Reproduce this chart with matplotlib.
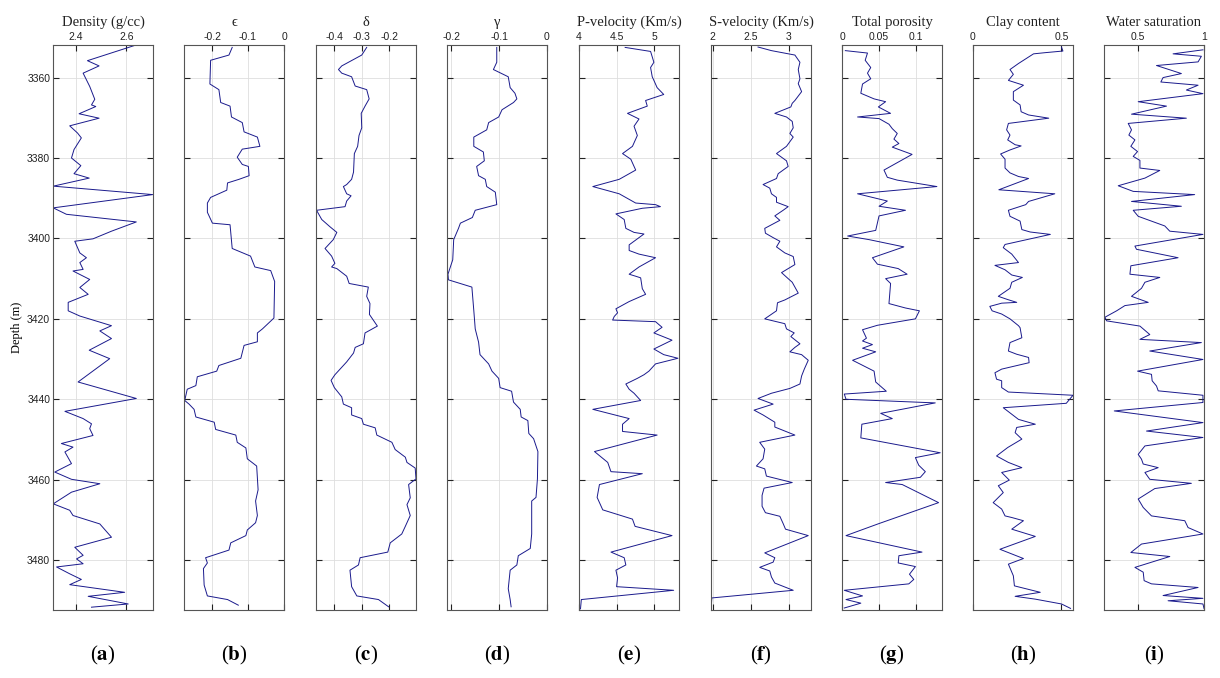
import matplotlib
matplotlib.use("Agg")
import matplotlib.pyplot as plt
from matplotlib.ticker import FuncFormatter

plt.rcParams['axes.unicode_minus'] = False
plt.rcParams['mathtext.fontset'] = 'stix'

# ---------------- data ----------------
depth_a = [3352.0, 3355.8, 3357.1, 3358.9, 3362.2, 3365.4, 3366.8, 3367.2, 3369.0, 3370.1, 3372.0, 3373.8,
           3375.0, 3377.9, 3380.0, 3381.9, 3383.9, 3385.0, 3387.0, 3389.1, 3392.4, 3394.0, 3395.9, 3398.2,
           3400.1, 3400.7, 3403.6, 3404.8, 3406.0, 3407.7, 3408.1, 3410.2, 3412.2, 3413.9, 3415.9, 3418.0,
           3419.3, 3421.7, 3423.0, 3424.9, 3427.8, 3429.9, 3435.7, 3439.8, 3443.0, 3444.8, 3446.1, 3447.3,
           3449.0, 3451.0, 3451.9, 3453.1, 3456.0, 3458.1, 3459.9, 3461.0, 3463.1, 3466.0, 3467.6, 3468.9,
           3471.0, 3474.3, 3476.8, 3478.8, 3479.7, 3480.9, 3481.7, 3483.4, 3484.8, 3486.1, 3488.0, 3489.0,
           3490.9, 3491.7]
density = [2.633, 2.446, 2.492, 2.429, 2.455, 2.475, 2.462, 2.479, 2.413, 2.492, 2.376, 2.407,
           2.422, 2.393, 2.383, 2.420, 2.393, 2.453, 2.311, 2.704, 2.311, 2.363, 2.639, 2.541,
           2.468, 2.396, 2.416, 2.442, 2.416, 2.429, 2.389, 2.455, 2.416, 2.449, 2.370, 2.370,
           2.416, 2.541, 2.495, 2.541, 2.453, 2.534, 2.409, 2.639, 2.357, 2.429, 2.462, 2.455,
           2.468, 2.343, 2.389, 2.357, 2.383, 2.317, 2.383, 2.495, 2.383, 2.311, 2.376, 2.389,
           2.495, 2.541, 2.396, 2.429, 2.403, 2.429, 2.324, 2.376, 2.422, 2.376, 2.593, 2.449,
           2.607, 2.462]

depth_b = [3352.5, 3354.4, 3355.7, 3361.6, 3363.0, 3366.2, 3367.1, 3369.8, 3371.2, 3373.5, 3374.8, 3377.1,
           3377.8, 3379.8, 3381.6, 3382.1, 3384.4, 3385.3, 3386.2, 3388.0, 3389.8, 3391.2, 3393.5, 3396.2,
           3396.6, 3402.5, 3404.4, 3407.1, 3408.0, 3410.7, 3419.8, 3422.5, 3423.5, 3425.7, 3426.6, 3429.8,
           3431.6, 3433.0, 3434.4, 3436.6, 3437.5, 3440.3, 3441.2, 3442.5, 3444.4, 3445.7, 3447.5, 3448.9,
           3450.7, 3452.1, 3454.8, 3456.6, 3462.5, 3465.3, 3468.9, 3470.7, 3472.5, 3473.9, 3475.7, 3477.5,
           3479.4, 3480.7, 3482.1, 3486.2, 3488.9, 3489.8, 3491.2]
epsilon = [-0.144, -0.153, -0.204, -0.206, -0.181, -0.176, -0.150, -0.146, -0.116, -0.111, -0.074, -0.067,
           -0.116, -0.130, -0.116, -0.099, -0.097, -0.125, -0.157, -0.159, -0.204, -0.213, -0.213, -0.199,
           -0.150, -0.144, -0.093, -0.081, -0.037, -0.026, -0.028, -0.060, -0.074, -0.074, -0.111, -0.120,
           -0.181, -0.187, -0.241, -0.245, -0.269, -0.276, -0.264, -0.250, -0.245, -0.194, -0.190, -0.134,
           -0.130, -0.106, -0.102, -0.076, -0.072, -0.079, -0.074, -0.079, -0.102, -0.106, -0.148, -0.153,
           -0.218, -0.213, -0.224, -0.222, -0.213, -0.157, -0.127]

depth_c = [3352.5, 3354.4, 3357.1, 3358.0, 3358.9, 3359.8, 3362.1, 3363.0, 3365.3, 3367.1, 3368.9, 3372.5,
           3374.4, 3377.1, 3378.9, 3383.5, 3385.3, 3386.6, 3387.1, 3388.9, 3389.4, 3390.7, 3392.1, 3393.0,
           3395.3, 3397.1, 3398.5, 3400.3, 3402.5, 3404.4, 3406.2, 3407.1, 3407.5, 3409.4, 3411.2, 3412.1,
           3414.4, 3416.2, 3418.9, 3421.8, 3423.5, 3426.2, 3427.1, 3428.5, 3430.7, 3433.9, 3435.3, 3437.1,
           3439.4, 3441.2, 3442.1, 3443.9, 3444.8, 3446.2, 3447.1, 3448.9, 3450.7, 3452.5, 3454.4, 3455.7,
           3457.1, 3459.8, 3461.2, 3464.5, 3466.2, 3468.9, 3471.6, 3473.5, 3475.7, 3478.0, 3479.4, 3481.2,
           3482.5, 3486.6, 3488.9, 3489.8, 3491.6]
delta = [-0.282, -0.300, -0.373, -0.385, -0.373, -0.337, -0.324, -0.282, -0.273, -0.288, -0.302, -0.300,
         -0.310, -0.315, -0.327, -0.330, -0.337, -0.355, -0.367, -0.355, -0.339, -0.355, -0.361, -0.465,
         -0.446, -0.416, -0.391, -0.404, -0.434, -0.410, -0.398, -0.410, -0.391, -0.355, -0.346, -0.276,
         -0.282, -0.270, -0.272, -0.243, -0.288, -0.294, -0.324, -0.330, -0.355, -0.398, -0.412, -0.400,
         -0.373, -0.367, -0.337, -0.337, -0.300, -0.294, -0.251, -0.245, -0.190, -0.178, -0.141, -0.135,
         -0.105, -0.102, -0.129, -0.123, -0.135, -0.123, -0.141, -0.154, -0.196, -0.205, -0.306, -0.312,
         -0.343, -0.337, -0.318, -0.239, -0.202]

depth_d = [3352.5, 3356.2, 3358.0, 3359.8, 3362.5, 3363.9, 3365.3, 3366.2, 3368.0, 3369.8, 3371.2, 3373.0,
           3374.8, 3377.1, 3378.5, 3380.7, 3382.1, 3384.4, 3385.3, 3387.1, 3388.5, 3391.6, 3393.0, 3394.8,
           3396.2, 3397.5, 3400.3, 3405.3, 3408.9, 3410.3, 3412.1, 3417.9, 3422.5, 3425.8, 3428.9, 3431.2,
           3433.0, 3434.8, 3437.1, 3438.0, 3440.7, 3442.5, 3444.4, 3445.3, 3448.5, 3449.8, 3453.0, 3459.8,
           3464.4, 3465.3, 3473.5, 3477.1, 3478.9, 3481.2, 3482.5, 3487.1, 3489.8, 3491.6]
gamma = [-0.105, -0.105, -0.112, -0.081, -0.077, -0.067, -0.063, -0.070, -0.094, -0.101, -0.122, -0.126,
         -0.153, -0.153, -0.133, -0.131, -0.147, -0.143, -0.129, -0.126, -0.108, -0.105, -0.150, -0.156,
         -0.181, -0.185, -0.195, -0.197, -0.207, -0.206, -0.157, -0.153, -0.150, -0.143, -0.140, -0.122,
         -0.115, -0.101, -0.098, -0.074, -0.070, -0.056, -0.054, -0.040, -0.038, -0.028, -0.019, -0.020,
         -0.023, -0.032, -0.032, -0.035, -0.060, -0.063, -0.077, -0.081, -0.077, -0.075]

depth_e = [3352.5, 3353.5, 3356.2, 3357.5, 3359.8, 3360.7, 3362.5, 3364.2, 3365.7, 3367.1, 3368.9, 3370.3,
           3372.1, 3374.4, 3377.1, 3378.9, 3380.3, 3383.0, 3385.3, 3387.1, 3388.9, 3391.2, 3391.6, 3392.1,
           3392.5, 3393.9, 3395.3, 3397.5, 3398.5, 3398.9, 3399.8, 3401.6, 3403.0, 3403.9, 3404.8, 3407.1,
           3408.9, 3409.4, 3409.8, 3412.5, 3413.9, 3415.7, 3417.5, 3418.5, 3419.4, 3420.3, 3420.7, 3422.1,
           3423.5, 3425.3, 3427.5, 3428.9, 3429.8, 3431.2, 3433.0, 3433.9, 3434.8, 3436.2, 3437.5, 3438.5,
           3440.3, 3442.5, 3444.8, 3446.2, 3448.0, 3448.9, 3453.0, 3455.7, 3458.0, 3458.5, 3461.2, 3464.4,
           3467.5, 3468.9, 3469.8, 3471.6, 3473.9, 3478.0, 3479.4, 3481.2, 3482.5, 3484.4, 3486.6, 3487.5,
           3489.8, 3492.1]
vp = [4.614, 4.952, 4.996, 4.952, 4.974, 4.996, 5.039, 5.127, 4.886, 4.908, 4.645, 4.798,
      4.732, 4.776, 4.711, 4.579, 4.689, 4.754, 4.535, 4.184, 4.535, 4.754, 5.018, 5.083,
      4.842, 4.491, 4.601, 4.623, 4.732, 4.864, 4.798, 4.667, 4.667, 4.798, 5.018, 4.798,
      4.667, 4.754, 4.820, 4.842, 4.886, 4.667, 4.491, 4.513, 4.469, 4.447, 5.018, 5.105,
      4.996, 5.237, 4.996, 5.127, 5.316, 5.018, 4.930, 4.864, 4.776, 4.623, 4.667, 4.732,
      4.820, 4.184, 4.667, 4.579, 4.579, 5.039, 4.206, 4.382, 4.425, 4.842, 4.272, 4.241,
      4.316, 4.557, 4.711, 4.746, 5.237, 4.425, 4.601, 4.623, 4.491, 4.513, 4.500, 5.259,
      4.031, 4.020]

depth_f = [3352.4, 3353.3, 3354.4, 3356.2, 3358.0, 3360.3, 3361.5, 3363.5, 3365.7, 3366.4, 3367.3, 3368.9,
           3369.8, 3370.9, 3372.5, 3373.9, 3374.8, 3377.1, 3378.9, 3380.7, 3382.1, 3383.9, 3385.1, 3386.6,
           3387.5, 3388.9, 3389.8, 3391.0, 3392.1, 3393.0, 3394.4, 3395.5, 3397.5, 3398.7, 3399.8, 3400.7,
           3402.1, 3403.6, 3404.5, 3406.5, 3408.5, 3410.0, 3410.9, 3413.6, 3415.3, 3416.0, 3418.0, 3420.0,
           3421.2, 3422.5, 3423.5, 3424.4, 3426.2, 3427.1, 3428.2, 3428.9, 3430.3, 3432.5, 3434.2, 3436.2,
           3437.3, 3438.5, 3439.8, 3441.2, 3442.7, 3443.9, 3445.7, 3446.9, 3448.9, 3450.7, 3452.4, 3454.8,
           3456.6, 3457.3, 3459.1, 3460.7, 3462.1, 3463.9, 3466.6, 3468.2, 3469.1, 3470.9, 3472.3, 3473.9,
           3478.2, 3479.4, 3480.5, 3481.8, 3482.7, 3484.2, 3485.7, 3487.5, 3489.4, 3491.8]
vs = [2.596, 2.772, 3.079, 3.145, 3.123, 3.145, 3.123, 3.167, 3.079, 3.044, 3.026, 2.816,
      2.969, 3.044, 3.057, 3.013, 3.057, 2.969, 2.838, 2.969, 2.991, 2.860, 2.838, 2.662,
      2.750, 2.772, 2.838, 2.838, 2.991, 2.925, 2.816, 2.882, 2.684, 2.693, 2.794, 2.882,
      2.838, 2.947, 3.057, 3.079, 2.904, 2.991, 3.044, 3.123, 2.947, 2.851, 2.838, 2.684,
      2.947, 2.969, 3.070, 3.026, 3.145, 3.079, 3.013, 3.167, 3.254, 3.202, 3.167, 3.145,
      3.013, 2.772, 2.596, 2.794, 2.544, 2.662, 2.816, 2.816, 3.079, 2.618, 2.684, 2.662,
      2.575, 2.684, 2.706, 3.044, 2.675, 2.649, 2.649, 2.693, 2.882, 2.925, 2.956, 3.254,
      2.684, 2.816, 2.794, 2.618, 2.750, 2.772, 2.816, 3.057, 1.991, 1.982]

depth_g = [3353.3, 3353.9, 3355.7, 3357.5, 3358.9, 3360.3, 3361.6, 3363.9, 3365.3, 3366.0, 3367.3, 3368.9,
           3369.8, 3370.2, 3371.6, 3372.7, 3373.9, 3375.3, 3376.4, 3377.3, 3379.1, 3383.0, 3384.8, 3385.5,
           3387.1, 3388.9, 3390.7, 3392.0, 3393.0, 3394.4, 3398.0, 3399.4, 3400.3, 3402.1, 3404.8, 3406.4,
           3407.5, 3408.9, 3410.0, 3411.2, 3416.2, 3417.3, 3418.0, 3420.0, 3421.6, 3422.7, 3424.8, 3425.5,
           3426.4, 3427.3, 3428.2, 3430.3, 3433.0, 3435.7, 3438.0, 3438.7, 3440.0, 3440.9, 3443.5, 3444.8,
           3446.2, 3449.6, 3453.3, 3454.5, 3456.4, 3458.0, 3459.4, 3460.7, 3461.2, 3465.7, 3470.9, 3473.9,
           3478.0, 3478.9, 3480.7, 3481.6, 3483.5, 3484.8, 3485.9, 3487.5, 3488.9, 3489.8, 3490.7, 3491.9]
porosity = [0.0045, 0.0344, 0.0313, 0.0388, 0.0344, 0.0388, 0.0277, 0.0254, 0.0433, 0.0589, 0.0491, 0.0656,
            0.0210, 0.0500, 0.0634, 0.0679, 0.0746, 0.0701, 0.0768, 0.0679, 0.0946, 0.0567, 0.0612, 0.0746,
            0.1281, 0.0210, 0.0612, 0.0500, 0.0857, 0.0500, 0.0455, 0.0076, 0.0366, 0.0835, 0.0411, 0.0478,
            0.0759, 0.0879, 0.0589, 0.0656, 0.0634, 0.0857, 0.1045, 0.0991, 0.0478, 0.0277, 0.0330, 0.0277,
            0.0411, 0.0277, 0.0455, 0.0143, 0.0433, 0.0455, 0.0598, 0.0031, 0.0054, 0.1259, 0.0522, 0.0679,
            0.0268, 0.0254, 0.1326, 0.0991, 0.1036, 0.1125, 0.1058, 0.0589, 0.0813, 0.1304, 0.0500, 0.0054,
            0.1080, 0.0768, 0.0759, 0.0991, 0.0911, 0.0969, 0.0902, 0.0031, 0.0277, 0.0054, 0.0254, 0.0031]

depth_h = [3352.4, 3353.4, 3353.8, 3354.1, 3356.5, 3358.0, 3359.2, 3360.7, 3361.9, 3363.5, 3365.6, 3366.8,
           3368.5, 3369.3, 3370.1, 3371.4, 3373.0, 3374.3, 3375.5, 3376.7, 3377.0, 3378.0, 3379.0, 3380.3,
           3382.5, 3383.7, 3384.6, 3385.1, 3387.9, 3388.9, 3390.8, 3391.6, 3393.0, 3394.5, 3395.7, 3397.8,
           3398.4, 3399.0, 3401.5, 3402.3, 3403.9, 3406.0, 3406.7, 3407.8, 3409.1, 3409.7, 3410.9, 3412.4,
           3414.4, 3415.2, 3415.9, 3416.1, 3416.9, 3418.0, 3418.8, 3420.0, 3421.7, 3422.2, 3424.7, 3425.9,
           3428.0, 3428.8, 3429.6, 3430.9, 3432.5, 3433.4, 3435.0, 3435.4, 3437.1, 3438.2, 3439.0, 3441.0,
           3442.1, 3445.0, 3446.2, 3447.0, 3448.3, 3449.9, 3452.0, 3454.1, 3455.7, 3457.0, 3458.2, 3460.1,
           3461.5, 3463.2, 3465.7, 3467.3, 3469.0, 3469.4, 3470.2, 3472.3, 3474.1, 3477.3, 3479.6, 3481.0,
           3483.9, 3486.4, 3488.0, 3489.0, 3489.7, 3490.9, 3492.0]
clay = [0.500, 0.508, 0.409, 0.342, 0.257, 0.209, 0.228, 0.200, 0.285, 0.228, 0.228, 0.266,
        0.272, 0.314, 0.428, 0.200, 0.190, 0.209, 0.196, 0.238, 0.272, 0.209, 0.156, 0.181,
        0.181, 0.209, 0.257, 0.314, 0.146, 0.462, 0.314, 0.298, 0.200, 0.209, 0.266, 0.276,
        0.323, 0.437, 0.181, 0.171, 0.219, 0.257, 0.124, 0.181, 0.219, 0.279, 0.219, 0.209,
        0.143, 0.196, 0.247, 0.162, 0.095, 0.108, 0.162, 0.209, 0.257, 0.266, 0.276, 0.209,
        0.200, 0.247, 0.314, 0.317, 0.162, 0.124, 0.133, 0.162, 0.162, 0.200, 0.565, 0.527,
        0.171, 0.257, 0.352, 0.247, 0.238, 0.276, 0.196, 0.133, 0.200, 0.276, 0.162, 0.205,
        0.143, 0.171, 0.114, 0.162, 0.181, 0.219, 0.285, 0.219, 0.352, 0.152, 0.285, 0.200,
        0.228, 0.234, 0.380, 0.238, 0.352, 0.500, 0.551]

depth_i = [3353.1, 3354.1, 3354.7, 3356.1, 3357.0, 3359.0, 3360.0, 3361.1, 3361.9, 3363.1, 3364.0, 3366.0,
           3367.1, 3369.1, 3370.1, 3371.4, 3373.0, 3374.3, 3375.5, 3377.1, 3378.4, 3379.6, 3380.6, 3382.5,
           3383.1, 3385.0, 3386.9, 3388.3, 3389.1, 3390.8, 3392.0, 3393.0, 3394.5, 3396.9, 3398.2, 3399.0,
           3401.9, 3402.7, 3404.8, 3406.8, 3408.9, 3409.7, 3410.9, 3412.4, 3414.4, 3415.9, 3416.7, 3418.0,
           3419.6, 3420.5, 3421.8, 3423.9, 3425.1, 3425.9, 3428.0, 3430.1, 3433.0, 3433.8, 3435.4, 3436.7,
           3437.9, 3439.0, 3440.8, 3442.9, 3445.8, 3447.9, 3449.5, 3451.6, 3453.7, 3454.9, 3456.1, 3457.0,
           3458.2, 3459.9, 3460.9, 3462.2, 3464.8, 3466.9, 3469.0, 3470.2, 3471.9, 3473.5, 3476.0, 3478.1,
           3479.1, 3481.8, 3483.0, 3485.1, 3485.9, 3486.8, 3488.8, 3489.5, 3490.1, 3490.9, 3492.0]
sw = [0.992, 0.765, 0.980, 0.955, 0.639, 0.828, 0.689, 0.672, 0.955, 0.866, 0.992, 0.500,
      0.715, 0.449, 0.866, 0.424, 0.449, 0.429, 0.475, 0.444, 0.495, 0.462, 0.513, 0.513,
      0.664, 0.551, 0.348, 0.462, 0.929, 0.449, 0.828, 0.462, 0.500, 0.702, 0.740, 0.992,
      0.475, 0.487, 0.803, 0.444, 0.437, 0.664, 0.551, 0.525, 0.449, 0.576, 0.399, 0.336,
      0.247, 0.260, 0.513, 0.588, 0.513, 0.980, 0.588, 0.992, 0.495, 0.601, 0.606, 0.639,
      0.652, 0.992, 0.992, 0.318, 0.992, 0.563, 0.992, 0.551, 0.500, 0.525, 0.538, 0.652,
      0.551, 0.588, 0.904, 0.626, 0.500, 0.538, 0.601, 0.854, 0.879, 0.992, 0.525, 0.444,
      0.740, 0.475, 0.538, 0.545, 0.601, 0.955, 0.689, 0.992, 0.727, 0.992, 1.000]

titles = ['Density (g/cc)', '\u03f5', '\u03b4', '\u03b3', 'P-velocity (Km/s)', 'S-velocity (Km/s)',
          'Total porosity', 'Clay content', 'Water saturation']
panel_letters = ['a', 'b', 'c', 'd', 'e', 'f', 'g', 'h', 'i']
xlims = [(2.31, 2.705), (-0.278, 0.0), (-0.467, -0.102), (-0.209, 0.0), (4.0, 5.33),
         (1.98, 3.29), (0.0, 0.135), (0.0, 0.565), (0.24, 1.0)]
xticks = [[2.4, 2.6], [-0.2, -0.1, 0], [-0.4, -0.3, -0.2], [-0.2, -0.1, 0], [4, 4.5, 5],
          [2, 2.5, 3], [0, 0.05, 0.1], [0, 0.5], [0.5, 1]]
depth_ticks = [3360, 3380, 3400, 3420, 3440, 3460, 3480]
depth_range = (3351.9, 3492.4)

series = [(depth_a, density), (depth_b, epsilon), (depth_c, delta), (depth_d, gamma),
          (depth_e, vp), (depth_f, vs), (depth_g, porosity), (depth_h, clay), (depth_i, sw)]

# ---------------- figure ----------------
W, H = 1220, 678
fig = plt.figure(figsize=(W / 100, H / 100), dpi=100)
fig.patch.set_facecolor('white')

lefts_px = [53, 184, 316, 447, 579, 711, 842, 973, 1104]
width_px = 100
top_px, bottom_px = 45, 610

serif = ['Liberation Serif', 'DejaVu Serif']
sans = ['Liberation Sans', 'DejaVu Sans']
line_color = '#1a1a8c'


def fmt(v, pos):
    return '%g' % v


for k, (lp, (dep, val)) in enumerate(zip(lefts_px, series)):
    ax = fig.add_axes([lp / W, 1 - bottom_px / H, width_px / W, (bottom_px - top_px) / H])
    ax.plot(val, dep, color=line_color, lw=0.7)
    ax.set_xlim(*xlims[k])
    ax.set_ylim(depth_range[1], depth_range[0])
    ax.set_xticks(xticks[k])
    ax.set_yticks(depth_ticks)
    ax.xaxis.set_major_formatter(FuncFormatter(fmt))
    ax.xaxis.tick_top()
    ax.tick_params(axis='x', which='both', direction='in', top=True, bottom=True,
                   labeltop=True, labelbottom=False, length=4, width=0.8, pad=2,
                   labelsize=7.5, colors='#222222')
    ax.tick_params(axis='y', which='both', direction='in', left=True, right=True,
                   length=4, width=0.8, labelsize=7.5, pad=2, colors='#222222',
                   labelleft=(k == 0))
    for lab in ax.get_xticklabels() + ax.get_yticklabels():
        lab.set_fontfamily(sans)
    ax.grid(True, color='#dedede', lw=0.6)
    ax.set_axisbelow(True)
    for sp in ax.spines.values():
        sp.set_color('#555555')
        sp.set_linewidth(0.8)
    ax.set_title(titles[k], fontsize=10.5, family=serif, pad=14, color='#222222')
    if k == 0:
        ax.set_ylabel('Depth (m)', fontsize=9, family=serif, labelpad=3)
    cx = (lp + width_px / 2) / W
    fig.text(cx, 1 - 655 / H, '(' + r'$\mathbf{' + panel_letters[k] + '}$' + ')',
             ha='center', va='center', fontsize=15, family=serif)

fig.savefig('out.png', dpi=100, facecolor='white')
